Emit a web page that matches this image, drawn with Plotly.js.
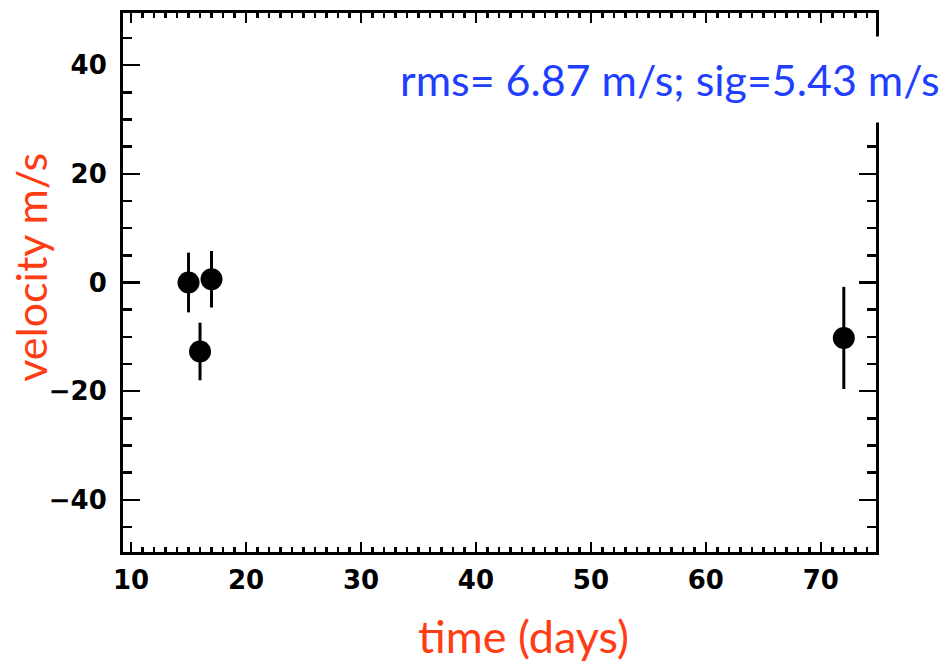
<!DOCTYPE html>
<html>
<head>
<meta charset="utf-8">
<script src="https://cdn.plot.ly/plotly-3.0.1.min.js"></script>
<style>html,body{margin:0;padding:0;background:#fff;}#chart{width:947px;height:663px;}</style>
</head>
<body>
<div id="chart"></div>
<script>
const days = [15, 16, 17, 72];
const velocity = [0, -12.7, 0.6, -10.2];
const velErr = [5.5, 5.3, 5.2, 9.4];
const xTickVals = [10, 20, 30, 40, 50, 60, 70];
const yTickVals = [-40, -20, 0, 20, 40];
const yTickText = ['\u221240', '\u221220', '0', '20', '40'];
const noteText = 'rms= 6.87 m/s; sig=5.43 m/s';
const xTitle = 'time (days)';
const yTitle = 'velocity m/s';

const titleColor = '#ff3d14';
const noteColor = '#1f3fff';

const trace = {
  x: days, y: velocity, type: 'scatter', mode: 'markers',
  marker: {color: '#000', size: 22, line: {width: 0}},
  error_y: {type: 'data', array: velErr, visible: true, color: '#000', thickness: 3, width: 0},
  showlegend: false, hoverinfo: 'none'
};

const tickFont = {family: 'DejaVu Sans, sans-serif', size: 26, color: '#000', weight: 'bold'};
const titleFontFamily = 'Lato, Open Sans, sans-serif';

const layout = {
  width: 947, height: 663,
  margin: {l: 123, r: 71, t: 13, b: 111, pad: 0},
  paper_bgcolor: '#fff', plot_bgcolor: '#fff',
  xaxis: {
    range: [9.3, 74.8], tickvals: xTickVals, ticktext: xTickVals.map(String),
    ticks: 'inside', ticklen: 10, tickwidth: 2.5, tickcolor: '#000',
    minor: {dtick: 1, tick0: 10, ticks: 'inside', ticklen: 5, tickwidth: 2.5, tickcolor: '#000', showgrid: false},
    showline: true, linewidth: 3, linecolor: '#000', mirror: 'allticks',
    showgrid: false, zeroline: false, tickfont: tickFont, ticklabelstandoff: 3
  },
  yaxis: {
    range: [-49.6, 49.6], tickvals: yTickVals, ticktext: yTickText,
    ticks: 'inside', ticklen: 17, tickwidth: 2.5, tickcolor: '#000',
    minor: {dtick: 5, tick0: 0, ticks: 'inside', ticklen: 9, tickwidth: 2.5, tickcolor: '#000', showgrid: false},
    showline: true, linewidth: 3, linecolor: '#000', mirror: 'allticks',
    showgrid: false, zeroline: false, tickfont: tickFont, ticklabelstandoff: 8
  },
  annotations: [
    {
      xref: 'paper', yref: 'paper', x: 0.726, y: 0.876, xanchor: 'center', yanchor: 'middle',
      text: noteText, showarrow: false, bgcolor: '#fff', borderpad: 17,
      font: {family: titleFontFamily, size: 43, color: noteColor}
    },
    {
      xref: 'paper', yref: 'paper', x: 0.5325, y: -0.156, xanchor: 'center', yanchor: 'middle',
      text: xTitle, showarrow: false,
      font: {family: titleFontFamily, size: 45, color: titleColor}
    },
    {
      xref: 'paper', yref: 'paper', x: -0.123, y: 0.528, xanchor: 'center', yanchor: 'middle',
      text: yTitle, showarrow: false, textangle: -90,
      font: {family: titleFontFamily, size: 43, color: titleColor}
    }
  ]
};

Plotly.newPlot('chart', [trace], layout, {displayModeBar: false, staticPlot: true});
</script>
</body>
</html>
